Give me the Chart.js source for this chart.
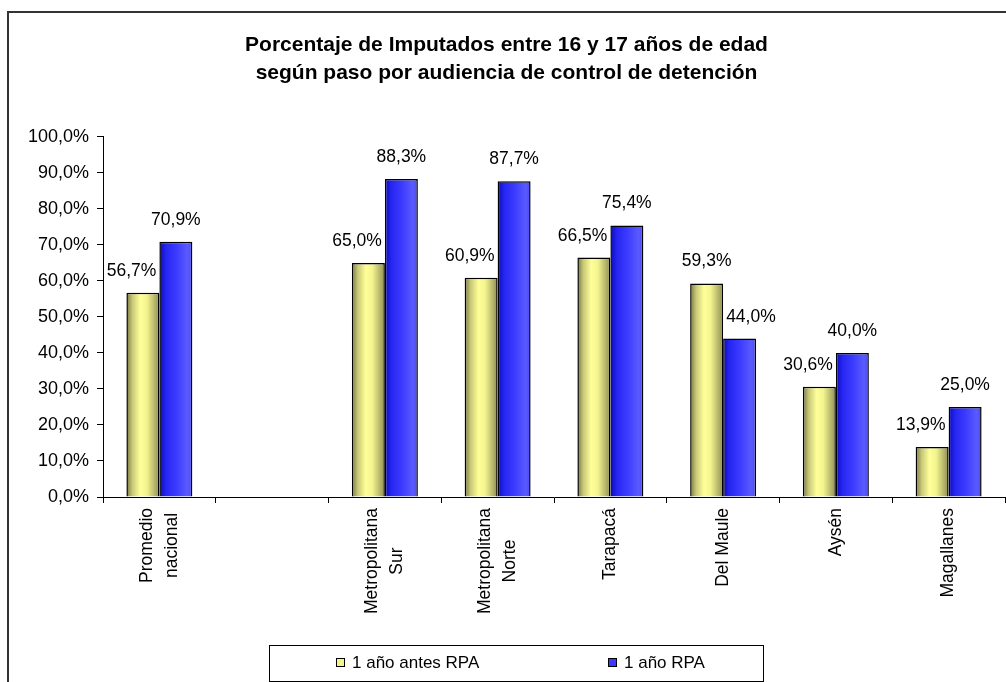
<!DOCTYPE html>
<html>
<head>
<meta charset="utf-8">
<title>Porcentaje de Imputados entre 16 y 17 años</title>
<script src="https://cdn.jsdelivr.net/npm/chart.js@4.4.1/dist/chart.umd.min.js"></script>
<style>
    html, body { margin: 0; padding: 0; background: #fff; }
    #wrap { width: 1006px; height: 682px; }
</style>
</head>
<body>
<div id="wrap"><canvas id="imputadosChart" width="1006" height="682"></canvas></div>
<script>
// Datos del gráfico
const titleLines = [
    'Porcentaje de Imputados entre 16 y 17 años de edad',
    'según paso por audiencia de control de detención'
];
const categories = [
    ['Promedio', 'nacional'],
    '',
    ['Metropolitana', 'Sur'],
    ['Metropolitana', 'Norte'],
    'Tarapacá',
    'Del Maule',
    'Aysén',
    'Magallanes'
];
const seriesNames = ['1 año antes RPA', '1 año RPA'];
const antesRPA = [56.7, null, 65.0, 60.9, 66.5, 59.3, 30.6, 13.9];
const conRPA = [70.9, null, 88.3, 87.7, 75.4, 44.0, 40.0, 25.0];
const yMin = 0;
const yMax = 100;
const yStep = 10;

const FONT = '"Liberation Sans", Arial, sans-serif';
const CAT_PCT = 0.585;

// gradientes tipo "cilindro" de Excel
const yellowStops = [[0, '#77773f'], [0.18, '#c8c878'], [0.42, '#ffff99'], [0.62, '#f4f48f'], [0.9, '#a9a964'], [1, '#8c8c50']];
const blueStops = [[0, '#0b0bb8'], [0.2, '#2626f2'], [0.5, '#3a3aff'], [0.85, '#5a5aff'], [1, '#4a4aee']];

function fmt(v) {
    return v.toFixed(1).replace('.', ',') + '%';
}

function barGradient(stops, side) {
    return function (context) {
        const chart = context.chart;
        const xScale = chart.scales.x;
        if (!xScale || context.dataIndex === undefined || !xScale.width) return stops[2][1];
        const center = xScale.getPixelForValue(context.dataIndex);
        const barW = (xScale.width / categories.length) * CAT_PCT / 2;
        const x0 = side < 0 ? center - barW : center;
        const g = chart.ctx.createLinearGradient(x0, 0, x0 + barW, 0);
        stops.forEach(s => g.addColorStop(s[0], s[1]));
        return g;
    };
}

// marco exterior
const framePlugin = {
    id: 'frame',
    beforeDraw(chart) {
        const ctx = chart.ctx;
        ctx.save();
        ctx.fillStyle = '#fff';
        ctx.fillRect(0, 0, chart.width, chart.height);
        ctx.strokeStyle = '#333';
        ctx.lineWidth = 2;
        ctx.strokeRect(8, 12, chart.width + 20, chart.height + 20);
        ctx.restore();
    }
};

// etiquetas de valores sobre las barras
const dataLabelPlugin = {
    id: 'dataLabels',
    afterDatasetsDraw(chart) {
        const ctx = chart.ctx;
        ctx.save();
        ctx.font = '17.5px ' + FONT;
        ctx.fillStyle = '#000';
        ctx.textAlign = 'center';
        ctx.textBaseline = 'alphabetic';
        chart.data.datasets.forEach((ds, di) => {
            const meta = chart.getDatasetMeta(di);
            const other = chart.getDatasetMeta(1 - di);
            const otherData = chart.data.datasets[1 - di].data;
            meta.data.forEach((bar, i) => {
                const v = ds.data[i];
                if (v == null) return;
                const text = fmt(v);
                const w = ctx.measureText(text).width;
                let x = bar.x;
                const ob = other.data[i];
                if (otherData[i] != null && otherData[i] > v) {
                    if (di === 0) {
                        x = Math.min(x, ob.x - ob.width / 2 - 3 - w / 2);
                    } else {
                        x = Math.max(x, ob.x + ob.width / 2 + 3 + w / 2);
                    }
                }
                ctx.fillText(text, x, bar.y - 17);
            });
        });
        ctx.restore();
    }
};

// etiquetas del eje X, giradas y con líneas centradas
const xLabelPlugin = {
    id: 'xLabels',
    afterDraw(chart) {
        const xScale = chart.scales.x;
        const ctx = chart.ctx;
        const lineH = 25;
        ctx.save();
        ctx.font = '17.5px ' + FONT;
        ctx.fillStyle = '#000';
        ctx.textAlign = 'center';
        ctx.textBaseline = 'middle';
        chart.data.labels.forEach((cat, i) => {
            const lines = Array.isArray(cat) ? cat : [cat];
            if (!lines[0]) return;
            const maxW = Math.max(...lines.map(l => ctx.measureText(l).width));
            ctx.save();
            ctx.translate(xScale.getPixelForValue(i), xScale.top + 11);
            ctx.rotate(-Math.PI / 2);
            lines.forEach((l, k) => {
                ctx.fillText(l, -maxW / 2, (k - (lines.length - 1) / 2) * lineH);
            });
            ctx.restore();
        });
        ctx.restore();
    }
};

// leyenda en recuadro inferior
const boxLegendPlugin = {
    id: 'boxLegend',
    afterDraw(chart) {
        const ctx = chart.ctx;
        ctx.save();
        ctx.strokeStyle = '#000';
        ctx.lineWidth = 1;
        ctx.strokeRect(269.5, 645.5, 494, 36);
        const items = [
            { x: 336, color: '#f4f48f' },
            { x: 608, color: '#3a3aff' }
        ];
        ctx.font = '17px ' + FONT;
        ctx.textBaseline = 'middle';
        ctx.textAlign = 'left';
        items.forEach((it, k) => {
            ctx.fillStyle = it.color;
            ctx.fillRect(it.x, 658, 8, 8);
            ctx.strokeStyle = '#000';
            ctx.strokeRect(it.x + 0.5, 658.5, 8, 8);
            ctx.fillStyle = '#000';
            ctx.fillText(chart.data.datasets[k].label, it.x + 16, 663);
        });
        ctx.restore();
    }
};

const ctx = document.getElementById('imputadosChart');

new Chart(ctx, {
    type: 'bar',
    data: {
        labels: categories,
        datasets: [{
            label: seriesNames[0],
            data: antesRPA,
            backgroundColor: barGradient(yellowStops, -1),
            borderColor: '#000',
            borderWidth: 1.5,
            borderSkipped: 'bottom',
            barPercentage: 1,
            categoryPercentage: CAT_PCT
        }, {
            label: seriesNames[1],
            data: conRPA,
            backgroundColor: barGradient(blueStops, 1),
            borderColor: '#000',
            borderWidth: 1.5,
            borderSkipped: 'bottom',
            barPercentage: 1,
            categoryPercentage: CAT_PCT
        }]
    },
    plugins: [framePlugin, dataLabelPlugin, xLabelPlugin, boxLegendPlugin],
    options: {
        responsive: false,
        animation: false,
        layout: {
            padding: { left: 8, right: 1, top: 11, bottom: 0 }
        },
        plugins: {
            legend: { display: false },
            tooltip: { enabled: false },
            title: {
                display: true,
                text: titleLines,
                color: '#000',
                font: { family: FONT, size: 21, weight: 'bold', lineHeight: 1.33 },
                padding: { top: 20, bottom: 50 }
            }
        },
        scales: {
            x: {
                grid: {
                    offset: true,
                    drawOnChartArea: false,
                    tickLength: 6,
                    color: '#000'
                },
                border: { display: true, color: '#000', width: 1 },
                ticks: {
                    display: false
                },
                afterFit(scale) {
                    scale.height = 185;
                }
            },
            y: {
                min: yMin,
                max: yMax,
                grid: {
                    drawOnChartArea: false,
                    tickLength: 6,
                    color: '#000'
                },
                border: { display: true, color: '#000', width: 1 },
                ticks: {
                    stepSize: yStep,
                    padding: 8,
                    color: '#000',
                    font: { family: FONT, size: 18 },
                    callback: function (value) {
                        return fmt(value);
                    }
                },
                afterFit(scale) {
                    scale.width = 95;
                }
            }
        }
    }
});
</script>
</body>
</html>
